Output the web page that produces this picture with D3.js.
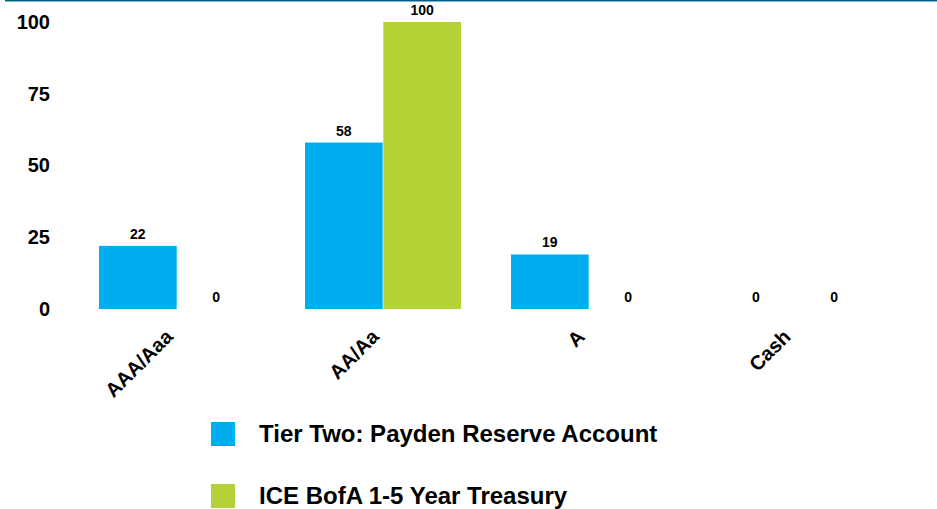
<!DOCTYPE html>
<html>
<head>
<meta charset="utf-8">
<script src="https://cdn.jsdelivr.net/npm/d3@7"></script>
<style>
  html, body { margin: 0; padding: 0; background: #fff; }
  text { font-family: "Liberation Sans", Arial, sans-serif; font-weight: bold; fill: #000; }
</style>
</head>
<body>
<svg id="chart" width="937" height="509"></svg>
<script>
// Credit quality breakdown (%)
const categories = ["AAA/Aaa", "AA/Aa", "A", "Cash"];
const seriesNames = ["Tier Two: Payden Reserve Account", "ICE BofA 1-5 Year Treasury"];
const reserveValues = [22, 58, 19, 0];
const treasuryValues = [0, 100, 0, 0];
const yTicks = [0, 25, 50, 75, 100];
const colors = ["#00AEEF", "#B2D235"];

const svg = d3.select("#chart");
const W = 937, H = 509;

// top rule
svg.append("line")
  .attr("x1", 5).attr("x2", W).attr("y1", 0.5).attr("y2", 0.5)
  .attr("stroke", "#00628B").attr("stroke-width", 2);

const x = d3.scaleBand().domain(categories).range([74, 898])
  .paddingInner(0.2427).paddingOuter(0.1214);
const xs = d3.scaleBand().domain(seriesNames).range([0, x.bandwidth()]).paddingInner(0.008);
const y = d3.scaleLinear().domain([0, 100]).range([309, 22]);

const data = categories.map((c, i) => ({
  cat: c,
  vals: [
    { s: seriesNames[0], v: reserveValues[i], color: colors[0] },
    { s: seriesNames[1], v: treasuryValues[i], color: colors[1] }
  ]
}));

// y axis labels
const yAxis = d3.axisLeft(y).tickValues(yTicks).tickSize(0).tickPadding(0);
const yg = svg.append("g").attr("transform", "translate(50,0)").call(yAxis);
yg.select(".domain").remove();
yg.selectAll("text")
  .attr("font-size", 20)
  .attr("font-family", "Liberation Sans, Arial, sans-serif")
  .attr("font-weight", "bold")
  .attr("fill", "#000");

// bars
const groups = svg.selectAll("g.cat").data(data).join("g")
  .attr("class", "cat")
  .attr("transform", d => `translate(${x(d.cat)},0)`);

groups.selectAll("rect").data(d => d.vals).join("rect")
  .attr("x", d => xs(d.s))
  .attr("width", xs.bandwidth())
  .attr("y", d => y(d.v))
  .attr("height", d => y(0) - y(d.v))
  .attr("fill", d => d.color);

groups.selectAll("text.val").data(d => d.vals).join("text")
  .attr("class", "val")
  .attr("x", d => xs(d.s) + xs.bandwidth() / 2)
  .attr("y", d => y(d.v) - 7)
  .attr("text-anchor", "middle")
  .attr("font-size", 14)
  .text(d => d.v);

// x axis labels
const xAxis = d3.axisBottom(x).tickSize(0).tickPadding(0);
const xg = svg.append("g").call(xAxis);
xg.select(".domain").remove();
xg.selectAll(".tick").attr("transform", d => `translate(${x(d) + x.bandwidth() / 2 - 3},338)`);
xg.selectAll("text")
  .attr("y", 0).attr("dy", 0)
  .attr("text-anchor", "end")
  .attr("transform", "rotate(-45)")
  .attr("font-size", 20)
  .attr("font-family", "Liberation Sans, Arial, sans-serif")
  .attr("font-weight", "bold")
  .attr("fill", "#000");

// legend
const legend = svg.append("g");
const leg = legend.selectAll("g").data(seriesNames).join("g")
  .attr("transform", (d, i) => `translate(211,${422 + i * 62})`);
leg.append("rect").attr("width", 24).attr("height", 24).attr("fill", (d, i) => colors[i]);
leg.append("text")
  .attr("x", 48).attr("y", 12).attr("dy", "0.35em")
  .attr("font-size", 24)
  .text(d => d);
</script>
</body>
</html>
